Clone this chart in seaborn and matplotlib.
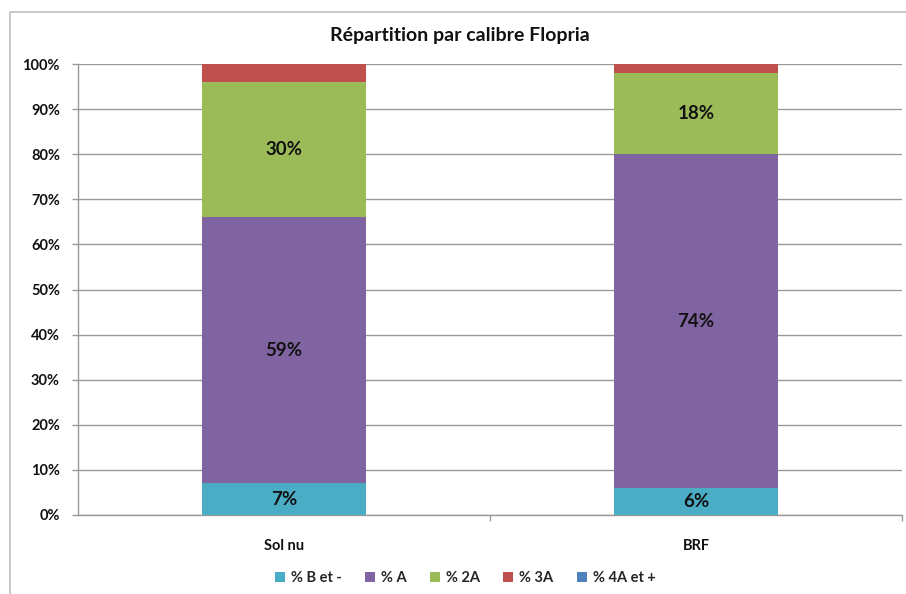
import pandas as pd
import seaborn as sns
import matplotlib.pyplot as plt
from matplotlib.patches import Patch, Rectangle
from matplotlib.ticker import PercentFormatter

# Data (percent of each class, stacked bottom -> top)
categories = ['Sol nu', 'BRF']
series_names = ['% B et -', '% A', '% 2A', '% 3A', '% 4A et +']
pct_b = [7, 6]
pct_a = [59, 74]
pct_2a = [30, 18]
pct_3a = [4, 2]
pct_4a = [0, 0]
colors = ['#4BACC6', '#8064A2', '#9BBB59', '#C0504D', '#4F81BD']
labelled = ['% B et -', '% A', '% 2A']


def main():
    df = pd.DataFrame({'Categorie': categories,
                       '% B et -': pct_b, '% A': pct_a, '% 2A': pct_2a,
                       '% 3A': pct_3a, '% 4A et +': pct_4a})
    cum = df[series_names].cumsum(axis=1)

    sns.set_style('white')
    plt.rcParams['font.family'] = ['Lato', 'DejaVu Sans']

    fig = plt.figure(figsize=(9.06, 5.94), dpi=100)
    ax = fig.add_axes([78 / 906, 1 - 515 / 594, 824 / 906, 451 / 594])

    # outer chart border (cropped on right and bottom like the reference)
    fig.patches.append(Rectangle((10 / 906, -0.5), 2.0, 0.5 + 1 - 12 / 594,
                                 transform=fig.transFigure, fill=False,
                                 edgecolor='#BFBFBF', linewidth=1.2, zorder=0))

    # stacked bars: draw cumulative totals from the top series down
    for name, col in reversed(list(zip(series_names, colors))):
        sns.barplot(x=df['Categorie'], y=cum[name], order=categories,
                    color=col, width=0.4, saturation=1, linewidth=0,
                    ax=ax, zorder=3)

    # data labels at the middle of each labelled segment
    for name in labelled:
        for i, cat in enumerate(categories):
            top = cum.loc[i, name]
            val = df.loc[i, name]
            ax.text(i, top - val / 2, f'{val}%', ha='center', va='center',
                    fontsize=13.5, fontweight='bold', color='#111111', zorder=4)

    ax.set_xlim(-0.5, 1.5)
    ax.set_ylim(0, 100)
    ax.set_yticks(range(0, 101, 10))
    ax.yaxis.set_major_formatter(PercentFormatter(decimals=0))
    ax.set_xlabel('')
    ax.set_ylabel('')

    ax.grid(axis='y', color='#9A9A9A', linewidth=1, zorder=0)
    ax.grid(axis='x', visible=False)
    ax.set_axisbelow(True)
    for side in ['top', 'right']:
        ax.spines[side].set_visible(False)
    for side in ['left', 'bottom']:
        ax.spines[side].set_color('#9A9A9A')
        ax.spines[side].set_linewidth(1)

    ax.tick_params(axis='y', which='major', left=True, length=4, width=1,
                   color='#9A9A9A', pad=9, labelsize=10.5, labelcolor='#111111')
    ax.tick_params(axis='x', which='major', bottom=False, length=0, pad=17,
                   labelsize=10.5, labelcolor='#111111')
    ax.set_xticks([0.5, 1.5], minor=True)
    ax.tick_params(axis='x', which='minor', bottom=True, length=4, width=1,
                   color='#9A9A9A')
    for lbl in ax.get_yticklabels() + ax.get_xticklabels():
        lbl.set_fontweight('bold')

    fig.text(460 / 906, 1 - 35 / 594, 'Répartition par calibre Flopria',
             ha='center', va='center', fontsize=14, fontweight='bold',
             color='#111111')

    handles = [Patch(facecolor=c, edgecolor='none') for c in colors]
    fig.legend(handles, series_names, loc='center', ncol=5,
               bbox_to_anchor=(465 / 906, 1 - 578 / 594), frameon=False,
               handlelength=0.7, handleheight=0.7,
               handletextpad=0.4, columnspacing=1.6,
               prop={'weight': 'bold', 'size': 10.5})

    fig.savefig('out.png', dpi=100)
    plt.close(fig)


if __name__ == "__main__":
    main()
